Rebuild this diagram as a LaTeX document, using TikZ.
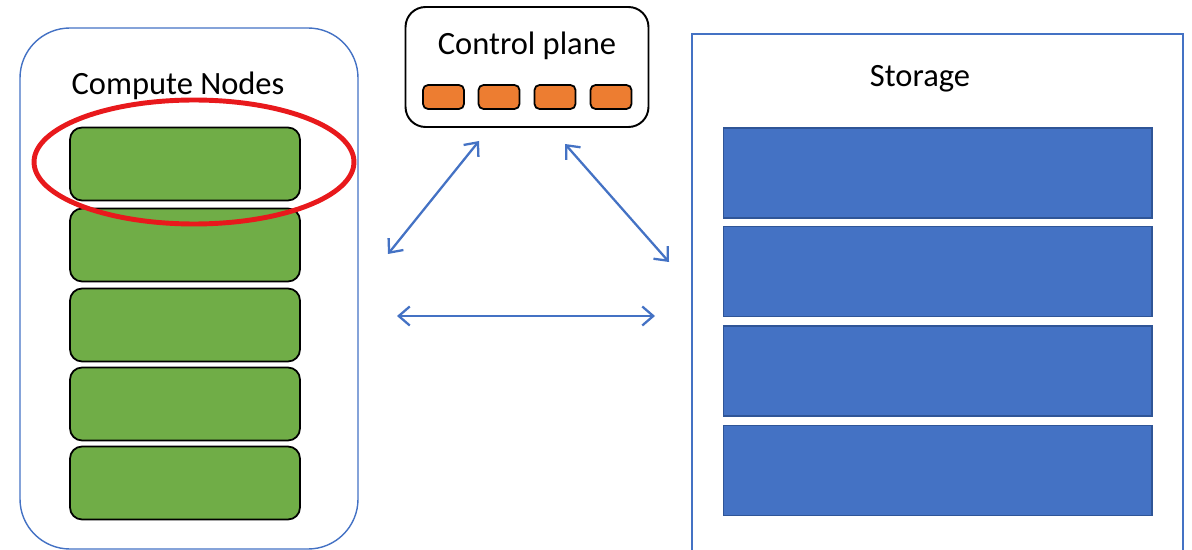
\documentclass[tikz,border=0pt]{standalone}
\usepackage{fontspec}
\setmainfont{Carlito}
\usetikzlibrary{arrows.meta}

\definecolor{nodegreen}{HTML}{70AD47}
\definecolor{diskblue}{HTML}{4472C4}
\definecolor{diskedge}{HTML}{2F5597}
\definecolor{taskorange}{HTML}{ED7D31}
\definecolor{ringred}{HTML}{E8191C}

\tikzset{
  frame/.style={draw=diskblue, line width=0.8pt},
  computebox/.style={draw=black, line width=1pt, fill=nodegreen, rounded corners=0.24cm,
    minimum width=4.6cm, minimum height=1.46cm, inner sep=0pt},
  diskbox/.style={draw=diskedge, line width=0.6pt, fill=diskblue,
    minimum width=8.58cm, minimum height=1.8cm, inner sep=0pt},
  taskbox/.style={draw=black, line width=1pt, fill=taskorange, rounded corners=0.1cm,
    minimum width=0.82cm, minimum height=0.48cm, inner sep=0pt},
  link/.style={draw=diskblue, line width=1.3pt,
    {Straight Barb[length=0.22cm,width=0.38cm]}-{Straight Barb[length=0.22cm,width=0.38cm]}},
  title/.style={font=\fontsize{18.5}{22}\selectfont, inner sep=0pt}
}

\begin{document}
\begin{tikzpicture}[x=0.02cm,y=-0.02cm]
    \useasboundingbox (0,0) rectangle (1192,550);

    % Draw the compute side
    \draw[frame, rounded corners=1cm] (20,28) rectangle (358,549);
    \node[title] (computelabel) at (178,86) {Compute Nodes};
    \foreach \y [count=\i] in {164,245,325,404,483} {
        \node[computebox] (cn\i) at (185,\y) {};
      }

    % Draw the red ring round the first node
    \draw[ringred, line width=2.8pt] (194,162) ellipse [x radius=3.2cm, y radius=1.24cm];

    % Draw the control plane
    \node[draw=black, line width=1.1pt, rounded corners=0.4cm, minimum width=4.86cm,
      minimum height=2.4cm, inner sep=0pt] (control) at (527,67) {};
    \node[title] (controllabel) at (527,46) {Control plane};
    \foreach \x [count=\i] in {443.5,499,555,611} {
        \node[taskbox] (task\i) at (\x,97) {};
      }

    % Draw the storage side
    \draw[frame] (692,551) -- (692,34) -- (1183,34) -- (1183,551);
    \node[title] (storagelabel) at (920,79) {Storage};
    \foreach \y [count=\i] in {173,271.5,371,470.5} {
        \node[diskbox] (disk\i) at (937.5,\y) {};
      }

    % Draw the links
    \coordinate (cpleft) at (479,141);
    \coordinate (cpright) at (565,144);
    \coordinate (compup) at (388,254);
    \coordinate (storeup) at (669,262);
    \coordinate (compmid) at (397,316);
    \coordinate (storemid) at (655,316);

    \draw[link] (compup) -- (cpleft);
    \draw[link] (cpright) -- (storeup);
    \draw[link] (compmid) -- (storemid);
  \end{tikzpicture}
\end{document}
